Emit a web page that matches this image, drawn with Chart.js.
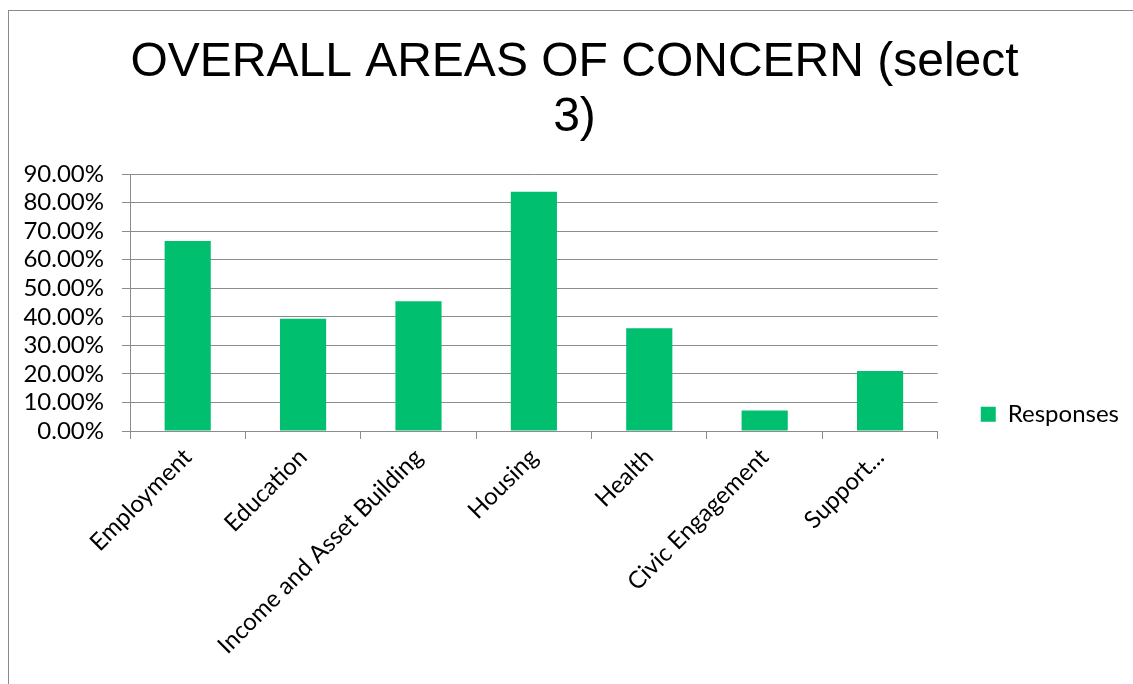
<!DOCTYPE html>
<html>
<head>
<meta charset="utf-8">
<script src="https://cdn.jsdelivr.net/npm/chart.js@4"></script>
<style>
  body{margin:0;background:#fff;}
  #wrap{position:relative;width:1133px;height:684px;overflow:hidden;}
  #frame{position:absolute;left:8px;top:10px;width:1200px;height:800px;border-left:1.5px solid #8a8a8a;border-top:1.5px solid #8a8a8a;}
  canvas{position:absolute;left:0;top:0;}
</style>
</head>
<body>
<div id="wrap">
  <div id="frame"></div>
  <canvas id="chart" width="1133" height="684"></canvas>
</div>
<script>
// categories + values (percent of respondents)
let categories=["Employment","Education","Income and Asset Building","Housing","Health","Civic Engagement","Support..."];
let responses=[66.5,39.3,45.4,83.8,36.0,7.2,21.0];
let titleLines=["OVERALL AREAS OF CONCERN (select","3)"];

let tickFont={family:"Lato",size:24};

new Chart(document.getElementById("chart"),{
  type:"bar",
  data:{
    labels:categories,
    datasets:[{label:"Responses",data:responses,backgroundColor:"#00BF6F",barPercentage:0.4,categoryPercentage:1}]
  },
  options:{
    responsive:false,
    animation:false,
    devicePixelRatio:1,
    layout:{padding:{left:20,right:4,top:0,bottom:0}},
    plugins:{
      title:{display:true,text:titleLines,color:"#000",font:{family:"Liberation Sans",size:48,weight:"normal",lineHeight:1.146},padding:{top:35,bottom:29}},
      legend:{
        position:"right",
        title:{display:true,text:" ",font:{size:2},padding:{top:142,bottom:0}},
        labels:{color:"#000",font:tickFont,boxWidth:15,boxHeight:15,padding:43}
      },
      tooltip:{enabled:false}
    },
    scales:{
      x:{
        grid:{drawOnChartArea:false,drawTicks:true,tickLength:8,color:"#8c8c8c"},
        border:{color:"#8c8c8c"},
        ticks:{color:"#000",font:tickFont,minRotation:45,maxRotation:45,autoSkip:false,padding:4},
        afterFit:s=>{s.height=684-431;}
      },
      y:{
        min:0,max:90,
        grid:{color:"#8c8c8c",tickLength:8},
        border:{color:"#8c8c8c"},
        ticks:{stepSize:10,autoSkip:false,color:"#000",font:tickFont,padding:18,callback:v=>v.toFixed(2)+"%"},
        afterFit:s=>{s.width=130-20;}
      }
    }
  }
});
</script>
</body>
</html>
